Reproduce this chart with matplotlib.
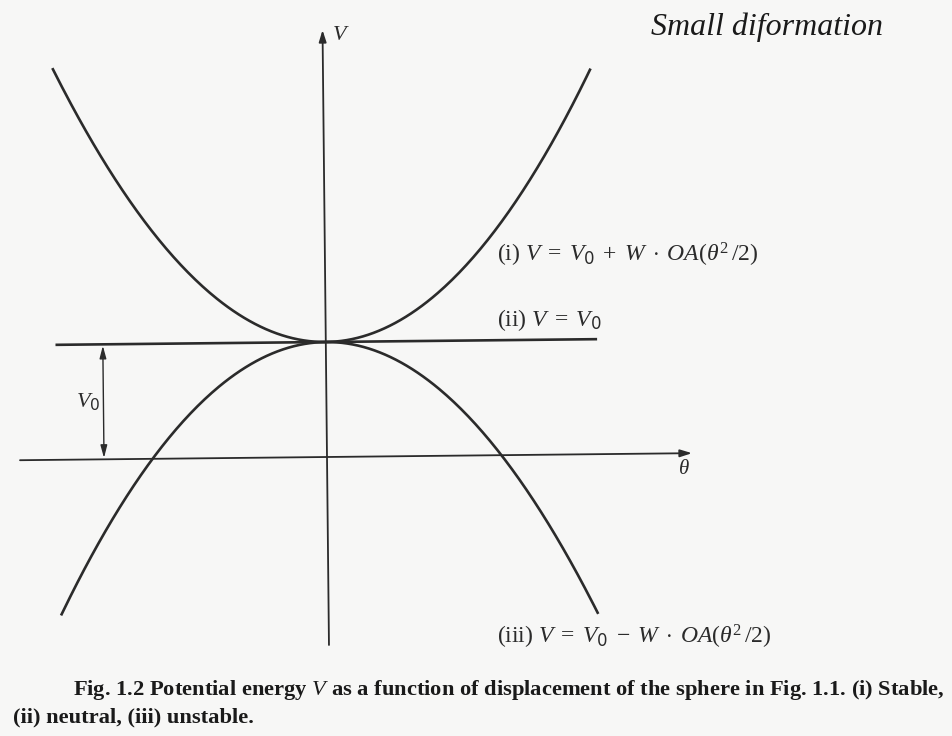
import numpy as np
import matplotlib.pyplot as plt
import matplotlib.transforms as mtransforms

# potential energy curves: V = V0 +/- W*OA*theta^2/2
V0 = 1.15
W_OA = 0.756
theta_stable = (-2.70, 2.67)
theta_unstable = (-2.67, 2.69)
theta_neutral = (-2.69, 2.70)

# axis extents
theta_axis = (-3.07, 3.65)
V_axis = (-1.88, 4.27)
V0_marker_theta = -2.23

labels = [
    r'(i) $V\;=\;V_{\mathsf{0}}\;+\;W\;\cdot\;OA(\theta^{2}\,/2)$',
    r'(ii) $V\;=\;V_{\mathsf{0}}$',
    r'(iii) $V\;=\;V_{\mathsf{0}}\;-\;W\;\cdot\;OA(\theta^{2}\,/2)$',
]
label_V = [2.02, 1.37, -1.80]
label_theta = 1.70

title = 'Small diformation'
caption_1 = r'Fig. 1.2 Potential energy $V$ as a function of displacement of the sphere in Fig. 1.1. (i) Stable,'
caption_2 = '(ii) neutral, (iii) unstable.'

plt.rcParams['mathtext.fontset'] = 'custom'
plt.rcParams['mathtext.rm'] = 'Liberation Serif'
plt.rcParams['mathtext.it'] = 'Liberation Serif:italic'
plt.rcParams['mathtext.sf'] = 'DejaVu Sans'
plt.rcParams['font.family'] = 'Liberation Serif'

ink = '#2b2b2b'
paper = '#f7f7f6'

fig = plt.figure(figsize=(9.53, 7.36), dpi=100, facecolor=paper)
ax = fig.add_axes([0, 0, 1, 1])
ax.set_facecolor(paper)
ax.set_xlim(-3.27, 6.26)
ax.set_ylim(-2.79, 4.57)
ax.axis('off')

# the printed figure sits slightly tilted on the page
tr = mtransforms.Affine2D().rotate_deg(0.6) + ax.transData

th = np.linspace(*theta_stable, 300)
ax.plot(th, V0 + W_OA * th**2 / 2, color=ink, lw=1.9, transform=tr)
th = np.linspace(*theta_unstable, 300)
ax.plot(th, V0 - W_OA * th**2 / 2, color=ink, lw=1.9, transform=tr)
ax.plot(theta_neutral, [V0, V0], color=ink, lw=1.9, transform=tr)

# axes with arrow heads
arrow = dict(arrowstyle='-|>,head_length=0.7,head_width=0.22', color=ink, lw=1.3,
             shrinkA=0, shrinkB=0)
ax.annotate('', xy=(0, V_axis[1]), xytext=(0, V_axis[0]),
            xycoords=tr, textcoords=tr, arrowprops=arrow)
ax.annotate('', xy=(theta_axis[1], 0), xytext=(theta_axis[0], 0),
            xycoords=tr, textcoords=tr, arrowprops=arrow)

# V0 dimension arrow
dim = dict(arrowstyle='<|-|>,head_length=0.75,head_width=0.2', color=ink, lw=1.0,
           shrinkA=1, shrinkB=1)
ax.annotate('', xy=(V0_marker_theta, V0), xytext=(V0_marker_theta, 0),
            xycoords=tr, textcoords=tr, arrowprops=dim)

ax.text(-2.39, 0.56, r'$V_{\mathsf{0}}$', fontsize=16, color=ink, ha='center', va='center')
ax.text(0.14, 4.22, r'$V$', fontsize=16, color=ink, ha='center', va='center')
ax.text(3.57, -0.13, r'$\theta$', fontsize=15, color=ink, ha='center', va='center')

for txt, v in zip(labels, label_V):
    ax.text(label_theta, v, txt, fontsize=17, color=ink, ha='left', va='center')

fig.text(651 / 953, 1 - 27 / 736, title, fontsize=23, style='italic',
         color='#1a1a1a', ha='left', va='center')

fig.text(73 / 953, 1 - 690 / 736, caption_1, fontsize=16.2, fontweight='bold',
         color='#1a1a1a', ha='left', va='center')
fig.text(13 / 953, 1 - 717 / 736, caption_2, fontsize=16.2, fontweight='bold',
         color='#1a1a1a', ha='left', va='center')

fig.savefig('out.png', dpi=100, facecolor=paper)
